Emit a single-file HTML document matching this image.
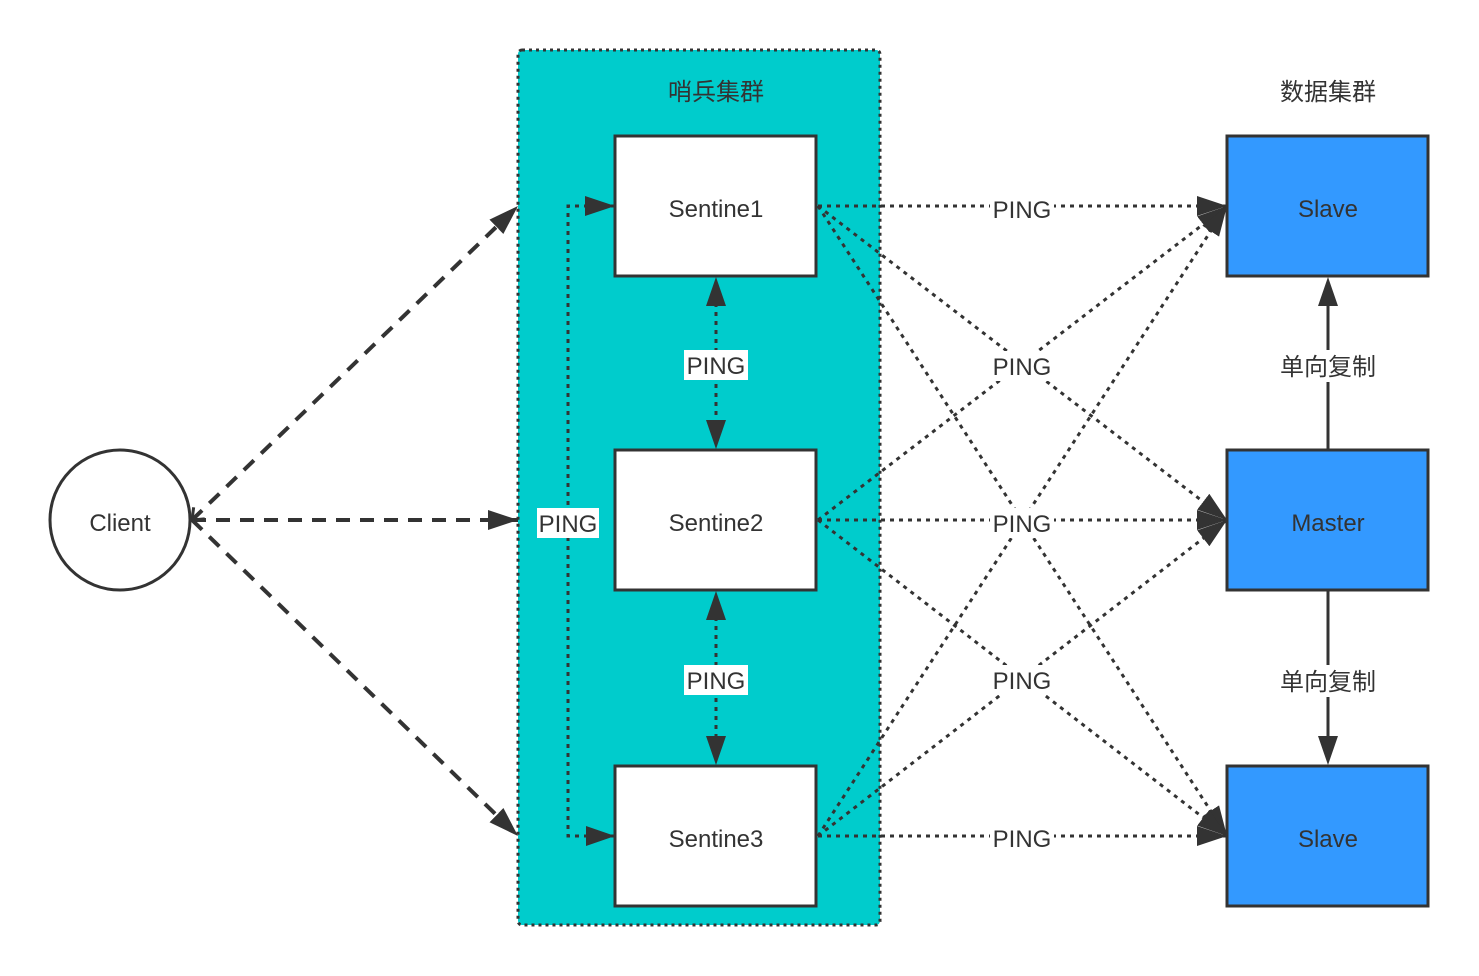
<!DOCTYPE html>
<html><head><meta charset="utf-8"><style>
html,body{margin:0;padding:0;background:#fff;}
svg{display:block;}
text{font-family:"Liberation Sans","Noto Sans CJK SC",sans-serif;font-size:24px;fill:#333;}
</style></head><body>
<svg width="1479" height="976" viewBox="0 0 1479 976" xmlns="http://www.w3.org/2000/svg">
<defs>
<marker id="a" viewBox="0 0 10 10" refX="10" refY="5" markerWidth="10" markerHeight="10" markerUnits="userSpaceOnUse" orient="auto"><path d="M0,0L10,5L0,10z" fill="#333"/></marker>
<marker id="b" viewBox="0 0 30 30" refX="30" refY="15" markerWidth="30" markerHeight="30" markerUnits="userSpaceOnUse" orient="auto"><path d="M0,5L30,15L0,25z" fill="#333"/></marker>
<marker id="c" viewBox="0 0 20 20" refX="2" refY="10" markerWidth="20" markerHeight="20" markerUnits="userSpaceOnUse" orient="auto"><path d="M12,2L2,10L12,18" fill="none" stroke="#333" stroke-width="3"/></marker>
</defs>
<rect x="518" y="50" width="362" height="875" rx="4" fill="#00CCCC" stroke="#333" stroke-width="3" stroke-dasharray="3 4"/>
<text x="716" y="100" text-anchor="middle">哨兵集群</text>
<text x="1328" y="100" text-anchor="middle">数据集群</text>

<g stroke="#333" stroke-width="4" stroke-dasharray="14 10" fill="none">
<line x1="192" y1="520" x2="518" y2="206" marker-end="url(#b)" marker-start="url(#c)"/>
<line x1="192" y1="520" x2="518" y2="520" marker-end="url(#b)"/>
<line x1="192" y1="520" x2="518" y2="836" marker-end="url(#b)"/>
</g>

<g stroke="#333" stroke-width="3" stroke-dasharray="4 5" fill="none">
<line x1="818" y1="206" x2="1227" y2="206" marker-end="url(#b)"/>
<line x1="818" y1="206" x2="1227" y2="520" marker-end="url(#b)"/>
<line x1="818" y1="206" x2="1227" y2="836" marker-end="url(#b)"/>
<line x1="818" y1="520" x2="1227" y2="206" marker-end="url(#b)"/>
<line x1="818" y1="520" x2="1227" y2="520" marker-end="url(#b)"/>
<line x1="818" y1="520" x2="1227" y2="836" marker-end="url(#b)"/>
<line x1="818" y1="836" x2="1227" y2="206" marker-end="url(#b)"/>
<line x1="818" y1="836" x2="1227" y2="520" marker-end="url(#b)"/>
<line x1="818" y1="836" x2="1227" y2="836" marker-end="url(#b)"/>
<polyline points="615,836 568,836 568,206 615,206" marker-end="url(#b)"/>
<line x1="716" y1="303" x2="716" y2="423"/>
<line x1="716" y1="617" x2="716" y2="739"/>
</g>
<g fill="#333">
<path d="M716,277L706,306L726,306z"/><path d="M716,449L706,420L726,420z"/>
<path d="M716,591L706,620L726,620z"/><path d="M716,765L706,736L726,736z"/>
<path d="M1328,277L1318,306L1338,306z"/><path d="M1328,765L1318,736L1338,736z"/>
<path d="M615,836L586,826L586,846z"/>
</g>
<line x1="1328" y1="305" x2="1328" y2="450" stroke="#333" stroke-width="3"/>
<line x1="1328" y1="590" x2="1328" y2="737" stroke="#333" stroke-width="3"/>

<circle cx="120" cy="520" r="70" fill="#fff" stroke="#333" stroke-width="3"/>
<text x="120" y="531" text-anchor="middle">Client</text>

<g fill="#fff" stroke="#333" stroke-width="3">
<rect x="615" y="136" width="201" height="140"/>
<rect x="615" y="450" width="201" height="140"/>
<rect x="615" y="766" width="201" height="140"/>
</g>
<g fill="#3399FF" stroke="#333" stroke-width="3">
<rect x="1227" y="136" width="201" height="140"/>
<rect x="1227" y="450" width="201" height="140"/>
<rect x="1227" y="766" width="201" height="140"/>
</g>
<text x="716" y="217" text-anchor="middle">Sentine1</text>
<text x="716" y="531" text-anchor="middle">Sentine2</text>
<text x="716" y="847" text-anchor="middle">Sentine3</text>
<text x="1328" y="217" text-anchor="middle">Slave</text>
<text x="1328" y="531" text-anchor="middle">Master</text>
<text x="1328" y="847" text-anchor="middle">Slave</text>

<g fill="#fff">
<rect x="684" y="350" width="64" height="30"/>
<rect x="684" y="665" width="64" height="30"/>
<rect x="537" y="508" width="62" height="30"/>
<rect x="990" y="194" width="64" height="30"/>
<rect x="990" y="351" width="64" height="30"/>
<rect x="990" y="508" width="64" height="30"/>
<rect x="990" y="665" width="64" height="30"/>
<rect x="990" y="823" width="64" height="30"/>
<rect x="1274" y="350" width="108" height="32"/>
<rect x="1274" y="665" width="108" height="32"/>
</g>
<text x="716" y="374" text-anchor="middle">PING</text>
<text x="716" y="689" text-anchor="middle">PING</text>
<text x="568" y="532" text-anchor="middle">PING</text>
<text x="1022" y="218" text-anchor="middle">PING</text>
<text x="1022" y="375" text-anchor="middle">PING</text>
<text x="1022" y="532" text-anchor="middle">PING</text>
<text x="1022" y="689" text-anchor="middle">PING</text>
<text x="1022" y="847" text-anchor="middle">PING</text>
<text x="1328" y="375" text-anchor="middle">单向复制</text>
<text x="1328" y="690" text-anchor="middle">单向复制</text>
</svg>
</body></html>
